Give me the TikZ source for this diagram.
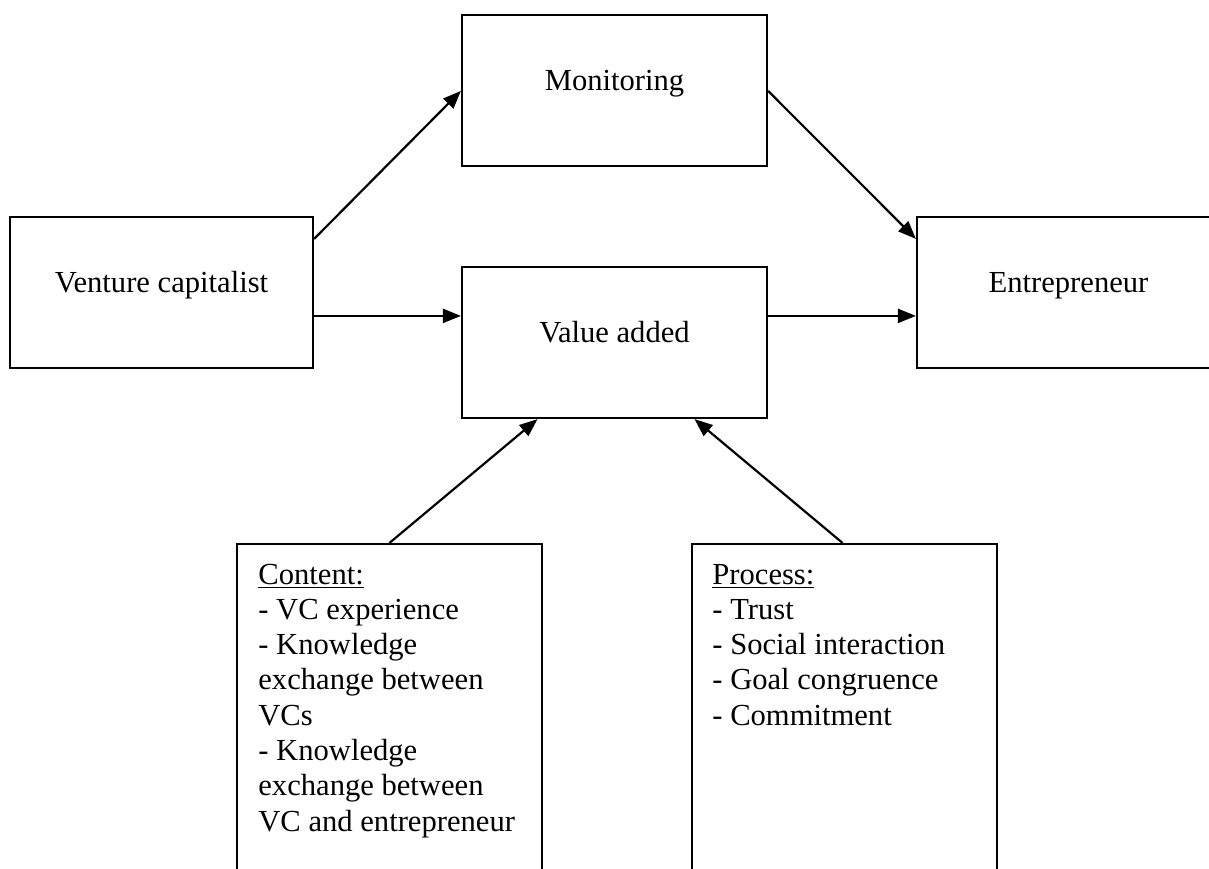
\documentclass[tikz,border=0pt]{standalone}
\usepackage{fontspec}
\setmainfont{Liberation Serif}
\usetikzlibrary{arrows.meta,calc}

\tikzset{
  box/.style={draw, line width=1.1pt, rectangle, inner sep=0pt,
              text height=10pt, text depth=10pt,
              font=\fontsize{15.3pt}{17.65pt}\selectfont},
  listtext/.style={anchor=base west, inner sep=0pt, align=left,
              font=\fontsize{15.3pt}{17.65pt}\selectfont},
  arr/.style={line width=1.1pt, -{Triangle[length=9pt,width=7pt]}}
}

\begin{document}
\begin{tikzpicture}[x=0.5pt,y=-0.5pt]
\useasboundingbox (0,0) rectangle (1209,868);
\clip (0,0) rectangle (1209,868);

% main boxes
\node (vc)  [box, minimum width=151.5pt, minimum height=75.5pt] at (161.5,292.5) {Venture capitalist};
\node (mon) [box, minimum width=152.5pt, minimum height=75.5pt] at (614.5,90.5) {Monitoring};
\node (va)  [box, minimum width=152.5pt, minimum height=75.5pt] at (614.5,342.5) {Value added};
\node (ent) [box, minimum width=151.5pt, minimum height=75.5pt] at (1068.5,292.5) {Entrepreneur};

% lower boxes (running off the bottom edge)
\node (content) [box, minimum width=152.5pt, minimum height=180pt] at (389.5,724) {};
\node (process) [box, minimum width=152.5pt, minimum height=180pt] at (844.5,724) {};

\node (contenttext) [listtext] at (258,584) {%
  \begin{tabular}[t]{@{}l@{}}
  \underline{Content:}\\
  - VC experience\\
  - Knowledge\\
  exchange between\\
  VCs\\
  - Knowledge\\
  exchange between\\
  VC and entrepreneur
  \end{tabular}};

\node (processtext) [listtext] at (712,584) {%
  \begin{tabular}[t]{@{}l@{}}
  \underline{Process:}\\
  - Trust\\
  - Social interaction\\
  - Goal congruence\\
  - Commitment
  \end{tabular}};

% connectors
\draw[arr] ($(vc.north east)+(0,23)$) -- ($(mon.north west)+(0,77)$);
\draw[arr] ($(mon.north east)+(0,77)$) -- ($(ent.north west)+(0,23)$);
\draw[arr] ($(vc.north east)+(0,100)$) -- ($(va.north west)+(0,50)$);
\draw[arr] ($(va.north east)+(0,50)$) -- ($(ent.north west)+(0,100)$);
\draw[arr] (content.north) -- ($(va.south)+(-77,0)$);
\draw[arr] ($(process.north)+(-2,0)$) -- ($(va.south)+(80,0)$);
\end{tikzpicture}
\end{document}
